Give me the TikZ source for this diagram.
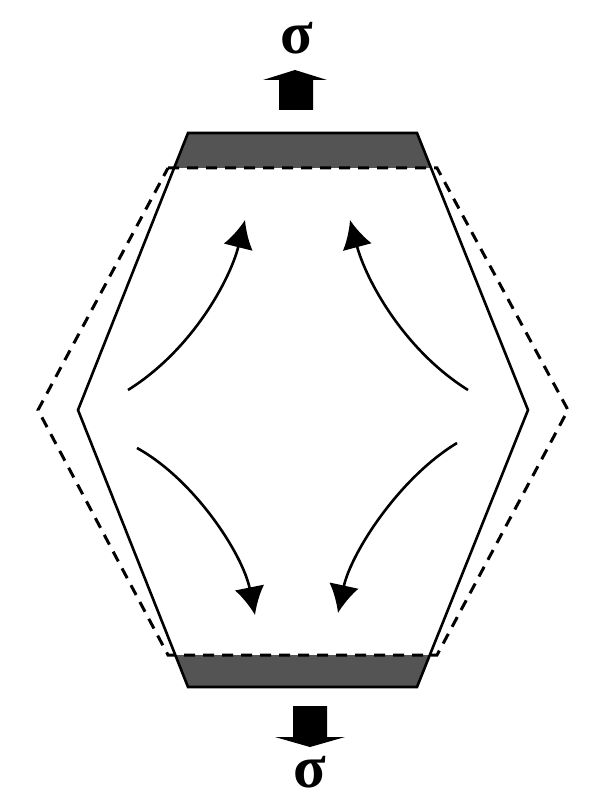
\documentclass[tikz,border=0pt]{standalone}
\usepackage{fontspec}
\newfontfamily\sigmafont{Liberation Serif}
\usetikzlibrary{arrows.meta}

\begin{document}
\begin{tikzpicture}[x=1pt, y=-1pt,
		outline/.style = {line width=2.6pt, line join=miter},
		dashline/.style = {line width=3pt, dash pattern=on 11pt off 8pt},
		flow/.style = {line width=2.6pt, -{Latex[length=28pt, width=30pt]}},
		plate/.style = {fill=black!67},
		load/.style = {fill=black},
		stress/.style = {inner sep=0pt, font=\fontsize{60}{60}\selectfont\sigmafont\bfseries}]
			\useasboundingbox (0, 0) rectangle (604, 802);
			% end plates
			\fill[plate] (188, 133) -- (417, 133) -- (431, 168) -- (174, 168) -- cycle;
			\fill[plate] (175, 655) -- (430, 655) -- (417, 687) -- (188, 687) -- cycle;
			% outline
			\draw[outline]
				(188, 133) -- (417, 133) -- (528, 410) -- (417, 687)
				-- (188, 687) -- (78, 410) -- cycle;
			\draw[dashline]
				(168, 168) -- (437, 168) -- (568, 410) -- (437, 655)
				-- (168, 655) -- (38, 410) -- cycle;
			% loads
			\fill[load] (279, 110) -- (279, 80) -- (263, 80) -- (295, 70)
				-- (327, 80) -- (313, 80) -- (313, 110) -- cycle;
			\fill[load] (293, 706) -- (293, 737) -- (275, 737) -- (310, 747)
				-- (345, 737) -- (327, 737) -- (327, 706) -- cycle;
			\node[stress] (sigmaTop) at (297, 38) {σ};
			\node[stress] (sigmaBot) at (310, 772) {σ};
			% flow
			\draw[flow] (128, 390) .. controls (192, 350) and (230, 280) .. (245, 220);
			\draw[flow] (468, 390) .. controls (404, 350) and (366, 280) .. (350, 220);
			\draw[flow] (137, 448) .. controls (195, 480) and (243, 555) .. (255, 615);
			\draw[flow] (457, 443) .. controls (399, 478) and (351, 553) .. (338, 613);
		\end{tikzpicture}
\end{document}
